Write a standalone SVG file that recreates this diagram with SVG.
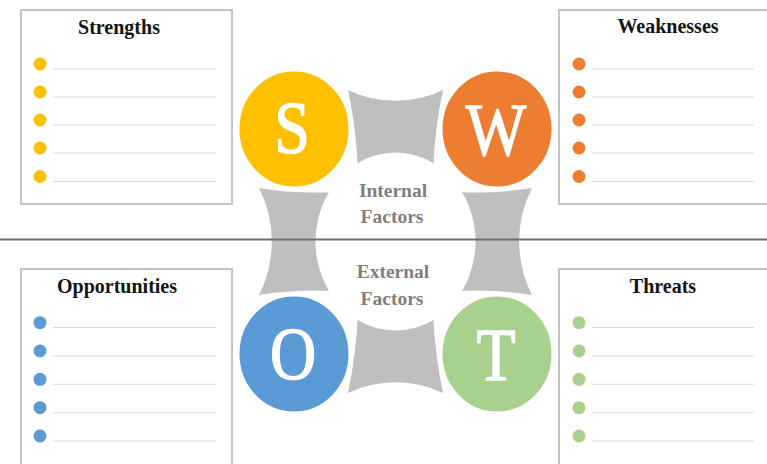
<svg xmlns="http://www.w3.org/2000/svg" width="767" height="464" viewBox="0 0 767 464">
<style>
.box{fill:#fff;stroke:#c3c3c3;stroke-width:2}
.title{font-family:"Liberation Serif","Times New Roman",serif;font-weight:bold;font-size:20px;text-anchor:middle;fill:#141414}
.rule{stroke:#d9d9d9;stroke-width:1}
.letter{font-family:"Liberation Serif","Times New Roman",serif;font-size:64px;fill:#fff;stroke:#fff;stroke-width:1.3;text-anchor:middle}
.factor{font-family:"Liberation Serif","Times New Roman",serif;font-weight:bold;font-size:19.5px;fill:#7f7f7f;text-anchor:middle}
.ring{stroke:#fff;stroke-width:3}
.s{fill:#ffc000}.w{fill:#ed7d31}.o{fill:#5b9bd5}.t{fill:#a9d18e}
</style>
<rect width="767" height="464" fill="#fff"/>

<g id="node-strengths">
<rect class="box" x="21" y="10" width="211" height="194"/>
<text class="title" x="119" y="34">Strengths</text>
<g class="s"><circle cx="40" cy="64" r="6.5"/><circle cx="40" cy="92" r="6.5"/><circle cx="40" cy="120" r="6.5"/><circle cx="40" cy="148" r="6.5"/><circle cx="40" cy="176.5" r="6.5"/></g>
<g class="rule"><line x1="53" y1="69" x2="216" y2="69"/><line x1="53" y1="97" x2="216" y2="97"/><line x1="53" y1="125" x2="216" y2="125"/><line x1="53" y1="153" x2="216" y2="153"/><line x1="53" y1="181.5" x2="216" y2="181.5"/></g>
</g>

<g id="node-weaknesses">
<rect class="box" x="559" y="10" width="212" height="194"/>
<text class="title" x="668" y="33">Weaknesses</text>
<g class="w"><circle cx="579" cy="64" r="6.5"/><circle cx="579" cy="92" r="6.5"/><circle cx="579" cy="120" r="6.5"/><circle cx="579" cy="148" r="6.5"/><circle cx="579" cy="176.5" r="6.5"/></g>
<g class="rule"><line x1="592" y1="69" x2="754" y2="69"/><line x1="592" y1="97" x2="754" y2="97"/><line x1="592" y1="125" x2="754" y2="125"/><line x1="592" y1="153" x2="754" y2="153"/><line x1="592" y1="181.5" x2="754" y2="181.5"/></g>
</g>

<g id="node-opportunities">
<rect class="box" x="21" y="269" width="211" height="197"/>
<text class="title" x="117" y="293">Opportunities</text>
<g class="o"><circle cx="40" cy="322.7" r="6.5"/><circle cx="40" cy="351" r="6.5"/><circle cx="40" cy="379.3" r="6.5"/><circle cx="40" cy="407.7" r="6.5"/><circle cx="40" cy="436" r="6.5"/></g>
<g class="rule"><line x1="53" y1="327.5" x2="216" y2="327.5"/><line x1="53" y1="356" x2="216" y2="356"/><line x1="53" y1="384.3" x2="216" y2="384.3"/><line x1="53" y1="412.7" x2="216" y2="412.7"/><line x1="53" y1="441" x2="216" y2="441"/></g>
</g>

<g id="node-threats">
<rect class="box" x="559" y="269" width="212" height="197"/>
<text class="title" x="663" y="293">Threats</text>
<g class="t"><circle cx="579" cy="322.7" r="6.5"/><circle cx="579" cy="351" r="6.5"/><circle cx="579" cy="379.3" r="6.5"/><circle cx="579" cy="407.7" r="6.5"/><circle cx="579" cy="436" r="6.5"/></g>
<g class="rule"><line x1="592" y1="327.5" x2="754" y2="327.5"/><line x1="592" y1="356" x2="754" y2="356"/><line x1="592" y1="384.3" x2="754" y2="384.3"/><line x1="592" y1="412.7" x2="754" y2="412.7"/><line x1="592" y1="441" x2="754" y2="441"/></g>
</g>

<g id="connectors">
<path fill="#bfbfbf" d="M348,90 A110,110 0 0 0 443,90 Q435,127 433,170 L395.5,241.5 L457,192 Q496,194 532,188 A118,118 0 0 0 532,295 Q496,289 457,291 L395.5,241.5 L433,313 Q435,356 443,393 A110,110 0 0 0 348,393 Q356,356 358,313 L395.5,241.5 L334,291 Q295,289 259,295 A118,118 0 0 0 259,188 Q295,194 334,192 L395.5,241.5 L358,170 Q356,127 348,90 Z"/>
</g>

<g id="node-center">
<ellipse cx="395.5" cy="241.5" rx="80" ry="89" fill="#fff"/>
<text class="factor" x="393" y="197">Internal</text>
<text class="factor" x="392" y="223">Factors</text>
<text class="factor" x="393" y="278">External</text>
<text class="factor" x="392" y="305">Factors</text>
</g>

<line id="divider" x1="0" y1="239.5" x2="767" y2="239.5" stroke="#707070" stroke-width="2"/>

<g id="node-S">
<ellipse class="s ring" cx="294" cy="129" rx="56" ry="59"/>
<text class="letter" transform="translate(292,153) scale(1,1.15)">S</text>
</g>
<g id="node-W">
<ellipse class="w ring" cx="497" cy="129" rx="56" ry="59"/>
<text class="letter" transform="translate(496,155) scale(1,1.15)">W</text>
</g>
<g id="node-O">
<ellipse class="o ring" cx="294" cy="354" rx="56" ry="59"/>
<text class="letter" transform="translate(293,379) scale(1,1.15)">O</text>
</g>
<g id="node-T">
<ellipse class="t ring" cx="497" cy="354" rx="56" ry="59"/>
<text class="letter" transform="translate(496,380) scale(1,1.15)">T</text>
</g>
</svg>
